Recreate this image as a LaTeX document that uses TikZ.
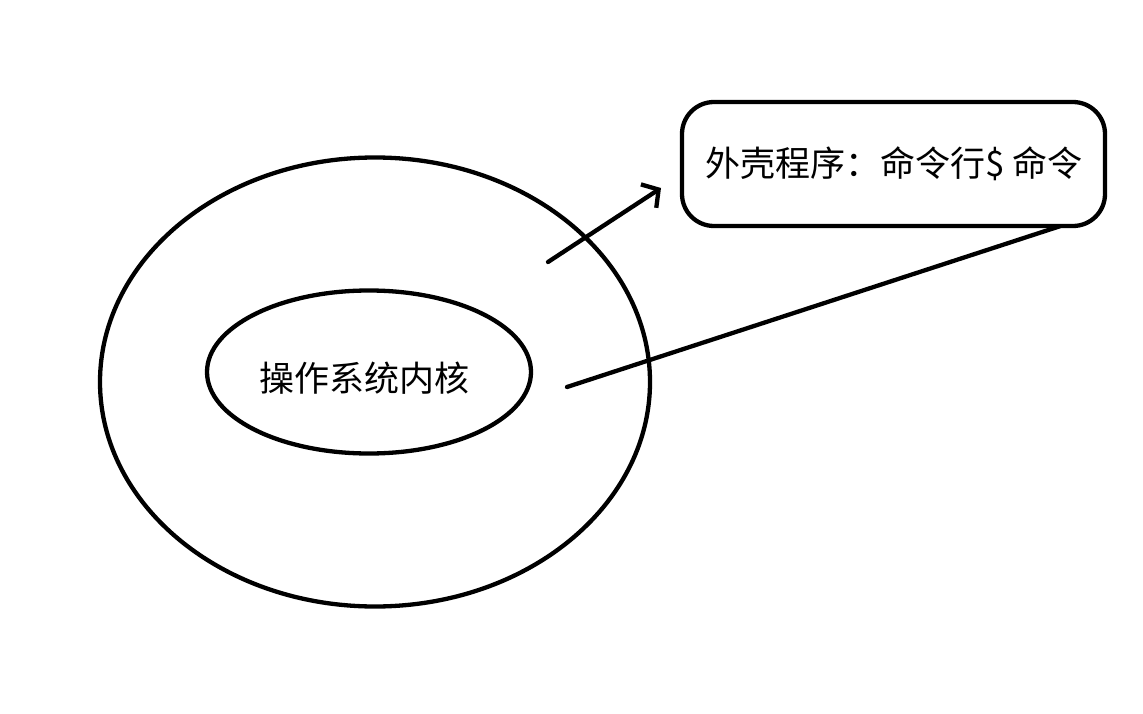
\documentclass[tikz,border=0pt]{standalone}
\usepackage{fontspec}
\newfontfamily\cjk{Noto Sans CJK SC}
\usetikzlibrary{shapes.geometric,arrows.meta}
\tikzset{
  outline/.style={draw=black, line width=4.3pt},
  lbl/.style={font=\cjk\fontsize{35}{40}\selectfont, inner sep=0pt},
  conn/.style={draw=black, line width=4.3pt, line cap=round}
}
\begin{document}
\begin{tikzpicture}[x=1pt,y=-1pt]
\useasboundingbox[fill=white] (0,0) rectangle (1143,714);
\node[outline, ellipse, minimum width=550pt, minimum height=449pt, inner sep=0pt] (outer) at (375,382) {};
\node[outline, ellipse, minimum width=324pt, minimum height=163pt, inner sep=0pt] (inner) at (369,372) {};
\node[lbl] (kernel) at (364,378) {操作系统内核};
\node[outline, rounded corners=32pt, minimum width=423pt, minimum height=124pt, inner sep=0pt] (shell) at (893.5,164) {};
\node[lbl] (shelltext) at (894,164) {外壳程序：命令行\$ 命令};
\coordinate (astart) at (548,262);
\coordinate (aend) at (661,188);
\coordinate (lstart) at (567,387);
\coordinate (lend) at ([xshift=-47pt,yshift=2pt]shell.south east);
\draw[conn, -{Straight Barb[length=12pt, width=28pt, line width=4.3pt]}] (astart) -- (aend);
\draw[conn] (lstart) -- (lend);
\end{tikzpicture}
\end{document}
